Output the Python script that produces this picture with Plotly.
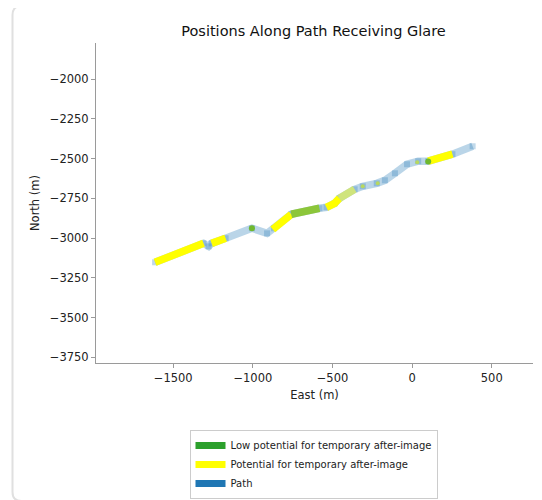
import plotly.graph_objects as go

# ---- data ----
path_east = [-1614, -1310, -1278, -1259, -1171, -1006, -911, -867, -759, -582, -538,
             -487, -456, -361, -310, -222, -171, -108, -32, 38, 101, 253, 380]
path_north = [-3152, -3033, -3052, -3033, -3001, -2938, -2970, -2938, -2850, -2812, -2806,
              -2781, -2749, -2693, -2674, -2655, -2636, -2592, -2535, -2516, -2516, -2472, -2422]

# potential for temporary after-image segments (None separates segments)
yellow_east = [-1614, -1310, None, -1259, -1171, None, -875, -759, None, -538, -487, -456, None, 101, 253]
yellow_north = [-3152, -3033, None, -3033, -3001, None, -2945, -2850, None, -2806, -2781, -2749, None, -2516, -2472]

# low potential for temporary after-image segments
green_east = [-759, -582]
green_north = [-2850, -2812]
pale_green_east = [-456, -361]
pale_green_north = [-2749, -2693]
green_dot_east = [-1006, 101]
green_dot_north = [-2938, -2518]
small_dot_east = [-310, -216, 32]
small_dot_north = [-2674, -2655, -2522]

legend_names = ["Low potential for temporary after-image",
                "Potential for temporary after-image",
                "Path"]
legend_colors = ["#2ca02c", "#ffff00", "#1f77b4"]

x_ticks = [-1500, -1000, -500, 0, 500]
y_ticks = [-2000, -2250, -2500, -2750, -3000, -3250, -3500, -3750]


def fmt(v):
    return ("\u2212" + str(abs(v))) if v < 0 else str(v)


FONT = "DejaVu Sans"
fig = go.Figure()

fig.add_trace(go.Scatter(x=path_east, y=path_north, mode="lines+markers",
                         line=dict(color="rgba(31,119,180,0.31)", width=7.5),
                         marker=dict(symbol="square", size=6, color="rgba(31,119,180,0.28)"),
                         showlegend=False, hoverinfo="skip"))
fig.add_trace(go.Scatter(x=yellow_east, y=yellow_north, mode="lines",
                         line=dict(color="#ffff00", width=7.5),
                         showlegend=False, hoverinfo="skip"))
fig.add_trace(go.Scatter(x=green_east, y=green_north, mode="lines",
                         line=dict(color="#8cc63a", width=7.5),
                         showlegend=False, hoverinfo="skip"))
fig.add_trace(go.Scatter(x=pale_green_east, y=pale_green_north, mode="lines",
                         line=dict(color="#cfe47c", width=7.5),
                         showlegend=False, hoverinfo="skip"))
fig.add_trace(go.Scatter(x=green_dot_east, y=green_dot_north, mode="markers",
                         marker=dict(color="#6fb82e", size=6),
                         showlegend=False, hoverinfo="skip"))
fig.add_trace(go.Scatter(x=small_dot_east, y=small_dot_north, mode="markers",
                         marker=dict(color="#b8d860", size=4),
                         showlegend=False, hoverinfo="skip"))

for name, col in zip(legend_names, legend_colors):
    fig.add_trace(go.Scatter(x=[None], y=[None], mode="lines", name=name,
                             line=dict(color=col, width=7)))

# page offset (browser body margin) and plot area in screen pixels
OFF = 8
FIG_W, FIG_H = 542 - OFF, 500 - OFF
LS, TS, W, H = 96, 43, 437, 320
L, T = LS - OFF, TS - OFF


def fx(px):
    return (px - LS) / W


def fy(py):
    return (TS + H - py) / H


cl, ct, cb, cr = fx(12.5), fy(6), fy(501), fx(600)
rx, ry = 9 / W, 9 / H
card = (f"M {cr},{ct} L {cl + rx},{ct} Q {cl},{ct} {cl},{ct - ry} "
        f"L {cl},{cb + ry} Q {cl},{cb} {cl + rx},{cb} L {cr},{cb}")

axis_common = dict(showgrid=False, zeroline=False, showline=True, linecolor="#9a9a9a",
                   linewidth=1, ticks="outside", ticklen=4, tickcolor="#9a9a9a",
                   tickfont=dict(family=FONT, size=11.5, color="#222"))

fig.update_layout(
    width=FIG_W, height=FIG_H,
    margin=dict(l=L, r=FIG_W - L - W, t=T, b=FIG_H - T - H, autoexpand=False),
    paper_bgcolor="white", plot_bgcolor="white",
    title=dict(text="Positions Along Path Receiving Glare", x=fx(313.5), xref="paper",
               xanchor="center", y=1 - (31 - OFF) / FIG_H, yref="container", yanchor="middle",
               font=dict(family=FONT, size=14.5, color="#111")),
    xaxis=dict(range=[-1985, 759], tickvals=x_ticks, ticktext=[fmt(v) for v in x_ticks],
               title=dict(text="East (m)", standoff=7, font=dict(family=FONT, size=11.5, color="#222")),
               **axis_common),
    yaxis=dict(range=[-3786, -1772], tickvals=y_ticks, ticktext=[fmt(v) for v in y_ticks],
               title=dict(text="North (m)", standoff=7, font=dict(family=FONT, size=11.5, color="#222")),
               **axis_common),
    legend=dict(x=fx(313.5), xanchor="center", y=fy(430), yanchor="top",
                bordercolor="#cccccc", borderwidth=1, bgcolor="white",
                font=dict(family=FONT, size=10, color="#222"), itemwidth=30,
                tracegroupgap=0),
    shapes=[dict(type="path", path=card, xref="paper", yref="paper",
                 line=dict(color="#e0e0e0", width=2), layer="below")],
    showlegend=True,
)

fig.write_html("out.html")
